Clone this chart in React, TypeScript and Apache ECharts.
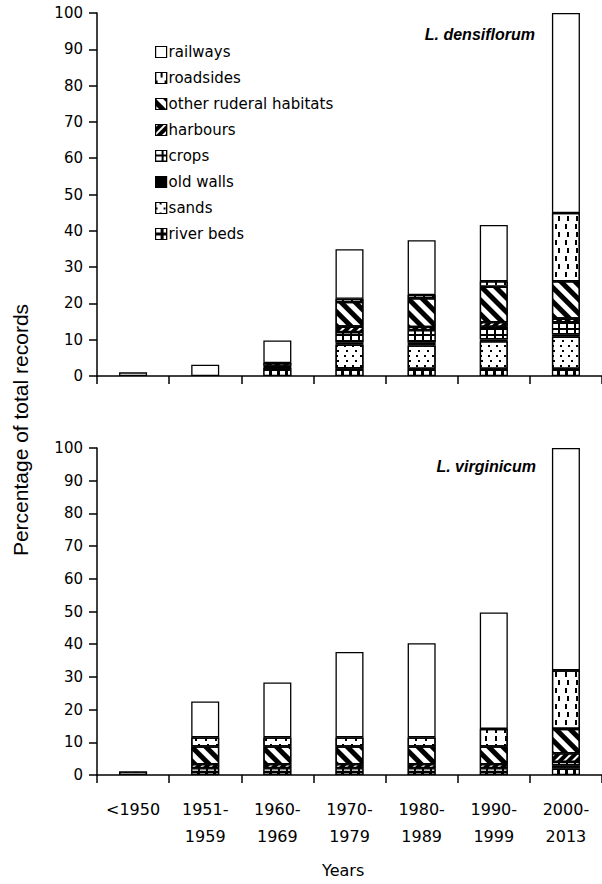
import React, { useEffect, useRef } from 'react';
import * as echarts from 'echarts';

// Categories (x axis)
const categories = ['<1950', '1951-\n1959', '1960-\n1969', '1970-\n1979', '1980-\n1989', '1990-\n1999', '2000-\n2013'];
// Habitats in stacking order (bottom -> top)
const habitats = ['river beds', 'sands', 'old walls', 'crops', 'harbours', 'other ruderal habitats', 'roadsides', 'railways'];
const legendOrder = [...habitats].reverse();
const yTicks = [0, 10, 20, 30, 40, 50, 60, 70, 80, 90, 100];

// L. densiflorum (% of total records)
const densRiverBeds = [0, 0, 2.2, 2.1, 2.0, 2.0, 2.0];
const densSands = [0, 0, 0, 6.5, 6.4, 7.6, 8.8];
const densOldWalls = [0, 0, 0.6, 0.6, 0.8, 0.5, 0.7];
const densCrops = [0, 0, 0, 2.9, 3.4, 3.5, 3.3];
const densHarbours = [0, 0, 0.8, 1.5, 0.9, 1.2, 1.0];
const densOtherRuderal = [0, 0, 0, 6.8, 7.9, 9.8, 10.3];
const densRoadsides = [0, 0, 0, 0.9, 0.9, 1.5, 18.8];
const densRailways = [1.0, 3.1, 6.2, 13.6, 15.1, 15.5, 55.1];

// L. virginicum (% of total records)
const virgRiverBeds = [0, 0.9, 0.9, 0.9, 0.9, 0.9, 2.0];
const virgSands = [0, 0, 0, 0, 0, 0, 0];
const virgOldWalls = [0, 0, 0, 0, 0, 0, 1.0];
const virgCrops = [0, 1.2, 1.2, 1.2, 1.2, 1.2, 1.0];
const virgHarbours = [0, 1.2, 1.2, 1.2, 1.2, 1.2, 2.6];
const virgOtherRuderal = [0, 5.4, 5.4, 5.4, 5.4, 5.4, 7.5];
const virgRoadsides = [1.1, 2.8, 2.8, 2.8, 2.8, 5.4, 17.9];
const virgRailways = [0, 11.0, 16.8, 26.1, 28.8, 35.6, 68.0];

const densData = [densRiverBeds, densSands, densOldWalls, densCrops, densHarbours, densOtherRuderal, densRoadsides, densRailways];
const virgData = [virgRiverBeds, virgSands, virgOldWalls, virgCrops, virgHarbours, virgOtherRuderal, virgRoadsides, virgRailways];

const BLACK = '#000';
const WHITE = '#fff';
const habitatStyle: Record<string, any> = {
  'river beds': { color: BLACK, decal: { symbol: 'rect', symbolSize: 1, color: WHITE, dashArrayX: [5, 3], dashArrayY: [3.5, 2.5] } },
  'sands': { color: WHITE, decal: { symbol: 'rect', symbolSize: 1, color: BLACK, dashArrayX: [[1.2, 5.8], [0, 3.5, 1.2, 2.3]], dashArrayY: [1.2, 3] } },
  'old walls': { color: BLACK },
  'crops': { color: BLACK, decal: { symbol: 'rect', symbolSize: 1, color: WHITE, dashArrayX: [5.5, 1.5], dashArrayY: [4, 1.5] } },
  'harbours': { color: BLACK, decal: { symbol: 'rect', symbolSize: 1, color: WHITE, dashArrayX: [1, 0], dashArrayY: [2, 4], rotation: -Math.PI / 4 } },
  'other ruderal habitats': { color: WHITE, decal: { symbol: 'rect', symbolSize: 1, color: BLACK, dashArrayX: [1, 0], dashArrayY: [4.5, 5], rotation: Math.PI / 4 } },
  'roadsides': { color: WHITE, decal: { symbol: 'rect', symbolSize: 1, color: BLACK, dashArrayX: [[1.5, 7], [0, 4.25, 1.5, 2.75]], dashArrayY: [5, 3] } },
  'railways': { color: WHITE },
};

const TICK_FONT = 'DejaVu Sans';

export default function App() {
  const ref = useRef<HTMLDivElement>(null);
  useEffect(() => {
    if (!ref.current) return;
    const chart = echarts.init(ref.current, null, { renderer: 'svg' });

    const makeSeries = (panel: number, data: number[][]) =>
      habitats.map((h, i) => ({
        name: h,
        type: 'bar',
        stack: 'panel' + panel,
        xAxisIndex: panel,
        yAxisIndex: panel,
        barWidth: 28,
        data: data[i].map((v) => (v === 0 ? '-' : v)),
        itemStyle: { ...habitatStyle[h], borderColor: BLACK, borderWidth: 1.3 },
        emphasis: { disabled: true },
      }));

    const xAxisCommon = {
      type: 'category',
      data: categories,
      boundaryGap: true,
      axisLine: { lineStyle: { color: BLACK, width: 1.5 } },
      axisTick: { show: true, length: 8, inside: false, lineStyle: { color: BLACK, width: 1.5 } },
      splitLine: { show: false },
    };
    const yAxisCommon = {
      type: 'value',
      min: 0,
      max: 100,
      interval: 10,
      axisLine: { show: true, lineStyle: { color: BLACK, width: 1.5 } },
      axisTick: { show: true, length: 8, lineStyle: { color: BLACK, width: 1.5 } },
      splitLine: { show: false },
      axisLabel: { color: BLACK, fontFamily: TICK_FONT, fontSize: 15, margin: 14,
        formatter: (v: number) => (yTicks.includes(v) ? String(v) : '') },
    };

    const option: any = {
      animation: false,
      backgroundColor: WHITE,
      grid: [
        { left: 97, top: 13, width: 507, height: 363 },
        { left: 97, top: 448, width: 507, height: 327 },
      ],
      xAxis: [
        { ...xAxisCommon, gridIndex: 0, axisLabel: { show: false } },
        { ...xAxisCommon, gridIndex: 1, axisLabel: { show: true, interval: 0, color: BLACK, fontFamily: TICK_FONT, fontSize: 16, lineHeight: 27, margin: 21 } },
      ],
      yAxis: [
        { ...yAxisCommon, gridIndex: 0 },
        { ...yAxisCommon, gridIndex: 1 },
      ],
      legend: {
        data: legendOrder,
        orient: 'vertical',
        left: 150,
        top: 38,
        itemWidth: 11,
        itemHeight: 11,
        itemGap: 8,
        icon: 'rect',
        selectedMode: false,
        itemStyle: { borderColor: BLACK, borderWidth: 1.2 },
        textStyle: { color: BLACK, fontFamily: TICK_FONT, fontSize: 15, lineHeight: 18, padding: [0, 0, 0, -3] },
      },
      graphic: [
        { type: 'text', right: 67, top: 26, style: { text: 'L. densiflorum', font: 'italic bold 16px "Liberation Sans"', fill: BLACK } },
        { type: 'text', right: 66, top: 458, style: { text: 'L. virginicum', font: 'italic bold 16px "Liberation Sans"', fill: BLACK } },
        { type: 'text', left: 322, top: 862, style: { text: 'Years', font: '16px "DejaVu Sans"', fill: BLACK } },
        { type: 'text', x: 20, y: 430, rotation: Math.PI / 2, style: { text: 'Percentage of total records', font: '21px "Liberation Sans Narrow", "Liberation Sans"', fill: BLACK, textAlign: 'center', textVerticalAlign: 'middle' } },
      ],
      series: [...makeSeries(0, densData), ...makeSeries(1, virgData)],
    };
    chart.setOption(option);
    return () => chart.dispose();
  }, []);
  return <div ref={ref} style={{ position: 'absolute', left: 0, top: 0, width: 602, height: 884, background: '#fff' }} />;
}
